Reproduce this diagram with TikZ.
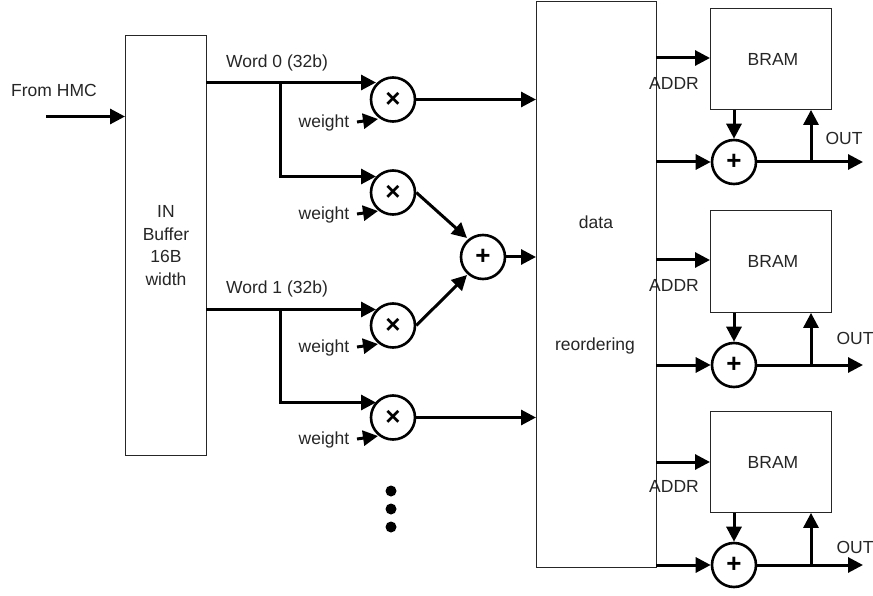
\documentclass[tikz,border=0pt]{standalone}
\usepackage{fontspec}
\setmainfont{Liberation Sans}
\usetikzlibrary{arrows.meta}
\tikzset{
  x=1pt,y=-1pt,
  wire/.style={line width=3pt,-{Triangle[length=15pt,width=15pt]}},
  plainwire/.style={line width=3pt},
  boxn/.style={draw=black!85,line width=0.9pt,inner sep=0pt,anchor=north west,align=center,fill=white},
  opn/.style={draw=black,line width=2.6pt,circle,minimum size=44pt,inner sep=0pt,fill=white,font=\fontsize{26}{26}\selectfont\bfseries},
  lab/.style={font=\fontsize{17.5}{22.5}\selectfont,text=black!85,inner sep=0pt},
  dotn/.style={circle,fill=black,minimum size=11pt,inner sep=0pt}
}
\newcommand{\opsym}[1]{\raisebox{-1.5pt}{#1}}
\begin{document}
\begin{tikzpicture}
\useasboundingbox (0,0) rectangle (873,596);
% boxes
\node[boxn,minimum width=81pt,minimum height=420pt,lab] (inbuf) at (125,35) {IN\\Buffer\\16B\\width};
\node[boxn,minimum width=120pt,minimum height=566pt] (reorder) at (536,1) {};
\node[lab] (lblA) at (596,222) {data};
\node[lab] (lblB) at (595,346) {reordering};
\node[boxn,minimum width=121pt,minimum height=101pt] (bramA) at (710,8) {};
\node[boxn,minimum width=121pt,minimum height=102pt] (bramB) at (710,210) {};
\node[boxn,minimum width=121pt,minimum height=101pt] (bramC) at (710,411) {};
\node[lab] (bramAt) at (773,59) {BRAM};
\node[lab] (bramBt) at (773,261) {BRAM};
\node[lab] (bramCt) at (773,462) {BRAM};
% free ends
\coordinate (hmcS) at (46,116.5);
\coordinate (j0) at (280,82.5);
\coordinate (j1) at (280,309.5);
\coordinate (o0) at (206,82.5);
\coordinate (o1) at (206,309.5);
\coordinate (wS1) at (357,122);
\coordinate (wS2) at (357,214);
\coordinate (wS3) at (357,347);
\coordinate (wS4) at (357,439);
\coordinate (wE1) at (378,119);
\coordinate (wE2) at (378,211);
\coordinate (wE3) at (378,344);
\coordinate (wE4) at (378,436);
\coordinate (eA) at (863,162);
\coordinate (eB) at (863,365);
\coordinate (eC) at (863,565);
\coordinate (tA) at (811,162);
\coordinate (tB) at (811,365);
\coordinate (tC) at (811,565);
\coordinate (sumT) at (467,238);
\coordinate (sumU) at (467,275);
% operators
\node[opn] (mA) at (393,99.5) {\opsym{×}};
\node[opn] (mB) at (393,192.5) {\opsym{×}};
\node[opn] (mC) at (393,325.5) {\opsym{×}};
\node[opn] (mD) at (393,417.5) {\opsym{×}};
\node[opn] (sum) at (483,257) {\opsym{+}};
\node[opn] (addA) at (734,162) {\opsym{+}};
\node[opn] (addB) at (734,365) {\opsym{+}};
\node[opn] (addC) at (734,565) {\opsym{+}};
% labels
\node[lab] (hmc) at (54,90) {From HMC};
\node[lab] (w0) at (277,63) {Word 0 (32b)};
\node[lab] (w1) at (277,289) {Word 1 (32b)};
\node[lab] (wa) at (324,123) {weight};
\node[lab] (wb) at (324,215) {weight};
\node[lab] (wc) at (324,348) {weight};
\node[lab] (wd) at (324,440) {weight};
% dots
\node[dotn] (d1) at (391,491) {};
\node[dotn] (d2) at (391,509) {};
\node[dotn] (d3) at (391,527) {};
% connectors
\draw[wire] (hmcS) -- (hmcS -| inbuf.west);
\draw[plainwire] (o0) -- (j0);
\draw[plainwire] (o1) -- (j1);
\draw[wire] (j0) -- (376,82.5);
\draw[wire] (j1) -- (376,309.5);
\draw[wire,line join=miter] (j0) -- (280,176.5) -- (376,176.5);
\draw[wire,line join=miter] (j1) -- (280,402.5) -- (376,402.5);
\draw[wire] (wS1) -- (wE1);
\draw[wire] (wS2) -- (wE2);
\draw[wire] (wS3) -- (wE3);
\draw[wire] (wS4) -- (wE4);
\draw[wire] (mA.east) -- (mA.east -| reorder.west);
\draw[wire] (mD.east) -- (mD.east -| reorder.west);
\draw[wire] (mB.east) -- (sumT);
\draw[wire] (mC.east) -- (sumU);
\draw[wire] (sum.east) -- (sum.east -| reorder.west);
\draw[wire] (656,58) -- (bramA.west |- 0,58);
\draw[wire] (656,260) -- (bramB.west |- 0,260);
\draw[wire] (656,462) -- (bramC.west |- 0,462);
\draw[wire] (656,162) -- (addA.west);
\draw[wire] (656,365) -- (addB.west);
\draw[wire] (656,565) -- (addC.west);
\draw[wire] (bramA.south -| addA) -- (addA.north);
\draw[wire] (bramB.south -| addB) -- (addB.north);
\draw[wire] (bramC.south -| addC) -- (addC.north);
\draw[wire] (addA.east) -- (eA);
\draw[wire] (addB.east) -- (eB);
\draw[wire] (addC.east) -- (eC);
\draw[wire] (tA) -- (tA |- bramA.south);
\draw[wire] (tB) -- (tB |- bramB.south);
\draw[wire] (tC) -- (tC |- bramC.south);
% labels over lines
\node[lab] (adA) at (674,83) {ADDR};
\node[lab] (adB) at (674,285) {ADDR};
\node[lab] (adC) at (674,486) {ADDR};
\node[lab] (outA) at (844,138) {OUT};
\node[lab] (outB) at (855,338) {OUT};
\node[lab] (outC) at (855,547) {OUT};
\end{tikzpicture}
\end{document}
